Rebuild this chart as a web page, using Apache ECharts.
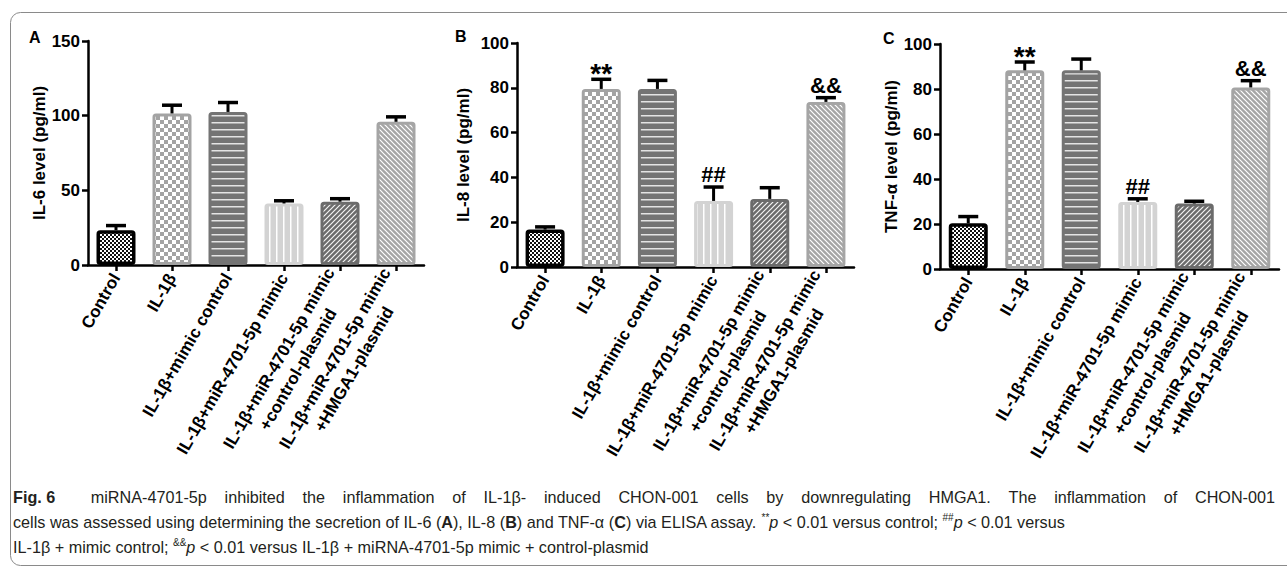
<!DOCTYPE html>
<html>
<head>
<meta charset="utf-8">
<script src="https://cdn.jsdelivr.net/npm/echarts@6/dist/echarts.min.js"></script>
<style>
html,body{margin:0;padding:0;background:#fff;}
#chart{width:1287px;height:572px;}
</style>
</head>
<body>
<div id="chart"></div>
<script>
// ---------------- data ----------------
const categories = [
  'Control',
  'IL-1β',
  'IL-1β+mimic control',
  'IL-1β+miR-4701-5p mimic',
  'IL-1β+miR-4701-5p mimic\n+control-plasmid',
  'IL-1β+miR-4701-5p mimic\n+HMGA1-plasmid'
];
const il6Values = [23.3, 101.5, 102.5, 41.2, 42.4, 95.9];
const il6Errors = [3.1, 5.5, 6.3, 1.8, 2.0, 3.3];
const il6Marks  = ['', '', '', '', '', ''];

const il8Values = [16.7, 79.5, 79.5, 29.5, 30.4, 73.7];
const il8Errors = [1.2, 4.3, 3.8, 6.2, 5.0, 1.9];
const il8Marks  = ['', '**', '', '##', '', '&&'];

const tnfValues = [20.3, 88.3, 88.3, 29.8, 29.1, 80.7];
const tnfErrors = [3.0, 3.7, 5.0, 1.4, 1.0, 3.0];
const tnfMarks  = ['', '**', '', '##', '', '&&'];

const yRangeA = [0, 150, 50];
const yRangeB = [0, 100, 20];
const yRangeC = [0, 100, 20];

const panelLetters = ['A', 'B', 'C'];
const axisNames = ['IL-6 level (pg/ml)', 'IL-8 level (pg/ml)', 'TNF-α level (pg/ml)'];

const captionLead = 'Fig. 6';
const captionLine1 = 'miRNA-4701-5p inhibited the inflammation of IL-1β- induced CHON-001 cells by downregulating HMGA1. The inflammation of CHON-001';

// ---------------- styles ----------------
const FONT = "'Liberation Sans', Arial, Helvetica, sans-serif";

function makeTile(w, h, draw) {
  const c = document.createElement('canvas');
  c.width = w; c.height = h;
  const g = c.getContext('2d');
  draw(g, w, h);
  return c.toDataURL();
}
const tiles = [
  makeTile(4, 4, (g) => { g.fillStyle = '#fff'; g.fillRect(0,0,4,4); g.fillStyle = '#111'; g.fillRect(0,0,2,2); g.fillRect(2,2,2,2); }),
  makeTile(8, 8, (g) => { g.fillStyle = '#fff'; g.fillRect(0,0,8,8); g.fillStyle = '#a3a3a3'; g.fillRect(0,0,4,4); g.fillRect(4,4,4,4); }),
  makeTile(8, 7, (g) => { g.fillStyle = '#747474'; g.fillRect(0,0,8,7); g.fillStyle = '#e4e4e4'; g.fillRect(0,3,8,1.5); }),
  makeTile(7, 8, (g) => { g.fillStyle = '#d3d3d3'; g.fillRect(0,0,7,8); g.fillStyle = '#ffffff'; g.fillRect(3,0,1.5,8); }),
  makeTile(5, 5, (g) => { g.fillStyle = '#6b6b6b'; g.fillRect(0,0,5,5); g.strokeStyle = '#f4f4f4'; g.lineWidth = 1.2;
    g.beginPath(); g.moveTo(0,5); g.lineTo(5,0); g.moveTo(-1,1); g.lineTo(1,-1); g.moveTo(4,6); g.lineTo(6,4); g.stroke(); }),
  makeTile(5, 5, (g) => { g.fillStyle = '#a5a5a5'; g.fillRect(0,0,5,5); g.strokeStyle = '#ffffff'; g.lineWidth = 1.2;
    g.beginPath(); g.moveTo(0,0); g.lineTo(5,5); g.moveTo(-1,4); g.lineTo(1,6); g.moveTo(4,-1); g.lineTo(6,1); g.stroke(); })
];
const borderColors = ['#000000', '#a3a3a3', '#747474', '#d3d3d3', '#6b6b6b', '#a5a5a5'];
const borderWidths = [3.5, 3, 3, 3, 3, 3];

const grids = [
  {left: 88,  top: 41, width: 336, height: 224},
  {left: 517, top: 43, width: 337, height: 224},
  {left: 940, top: 44, width: 339, height: 225}
];
const nameGaps = [35, 45, 40];
const letterPos = [[29, 29], [455, 28], [883, 30]];
// font size and vertical nudge for the significance marks
const markStyle = {'**': {size: 28, dy: 11}, '##': {size: 22, dy: 1.5}, '&&': {size: 22, dy: 1.5}};

// ---------------- build ----------------
function labelFormatter(v) {
  const parts = v.split('\n');
  if (parts.length === 1) return '{a|' + v + '}';
  return '{a|' + parts[0] + '}\n{b|' + parts[1] + '}';
}

function errorRenderer(marks) {
  return function (params, api) {
    const x = api.value(0), v = api.value(1), e = api.value(2);
    const p0 = api.coord([x, v]);
    const p1 = api.coord([x, v + e]);
    const half = 10;
    const children = [
      {type: 'line', shape: {x1: p0[0], y1: p0[1], x2: p1[0], y2: p1[1]}, style: {stroke: '#000', lineWidth: 3}},
      {type: 'line', shape: {x1: p1[0] - half, y1: p1[1], x2: p1[0] + half, y2: p1[1]}, style: {stroke: '#000', lineWidth: 3.5}}
    ];
    const m = marks[params.dataIndex];
    if (m) {
      const ms = markStyle[m];
      children.push({type: 'text', x: p1[0], y: p1[1] - 3 + ms.dy,
        style: {text: m, align: 'center', verticalAlign: 'bottom', fontSize: ms.size, fontWeight: 'bold', fill: '#000', fontFamily: FONT}});
    }
    return {type: 'group', children: children};
  };
}

const panels = [
  {values: il6Values, errors: il6Errors, marks: il6Marks, range: yRangeA},
  {values: il8Values, errors: il8Errors, marks: il8Marks, range: yRangeB},
  {values: tnfValues, errors: tnfErrors, marks: tnfMarks, range: yRangeC}
];

const LBL = 17;
const option = {
  animation: false,
  backgroundColor: '#fff',
  grid: grids.map(g => Object.assign({containLabel: false, outerBoundsMode: 'none'}, g)),
  xAxis: panels.map((p, i) => ({
    type: 'category', gridIndex: i, data: categories,
    axisLine: {show: true, lineStyle: {color: '#000', width: 2.5}},
    axisTick: {show: true, alignWithLabel: true, length: 6, lineStyle: {color: '#000', width: 2.5}},
    splitLine: {show: false},
    axisLabel: {
      interval: 0, rotate: 60, margin: 10, color: '#000', fontSize: LBL, fontWeight: 'bold', fontFamily: FONT,
      formatter: labelFormatter,
      rich: {
        a: {fontSize: LBL, fontWeight: 'bold', fontFamily: FONT, color: '#000', lineHeight: 22},
        b: {fontSize: LBL, fontWeight: 'bold', fontFamily: FONT, color: '#000', lineHeight: 22, align: 'center'}
      }
    }
  })),
  yAxis: panels.map((p, i) => ({
    type: 'value', gridIndex: i, min: p.range[0], max: p.range[1], interval: p.range[2],
    name: axisNames[i], nameLocation: 'middle', nameGap: nameGaps[i],
    nameTextStyle: {fontSize: 17, fontWeight: 'bold', color: '#000', fontFamily: FONT},
    axisLine: {show: true, lineStyle: {color: '#000', width: 2.5}},
    axisTick: {show: true, length: 6, lineStyle: {color: '#000', width: 2.5}},
    splitLine: {show: false},
    axisLabel: {margin: 8, color: '#000', fontSize: 17, fontWeight: 'bold', fontFamily: FONT}
  })),
  series: [],
  graphic: []
};

panels.forEach((p, i) => {
  option.series.push({
    type: 'bar', xAxisIndex: i, yAxisIndex: i, barWidth: 39,
    data: p.values.map((v, k) => ({
      value: v,
      itemStyle: {
        color: {image: tiles[k], repeat: 'repeat'},
        borderColor: borderColors[k], borderWidth: borderWidths[k], borderRadius: 2
      }
    })),
    emphasis: {disabled: true}
  });
  option.series.push({
    type: 'custom', xAxisIndex: i, yAxisIndex: i,
    renderItem: errorRenderer(p.marks),
    encode: {x: 0, y: 1},
    data: p.values.map((v, k) => [k, v, p.errors[k]]),
    z: 3
  });
  option.graphic.push({
    type: 'text', left: letterPos[i][0], top: letterPos[i][1],
    style: {text: panelLetters[i], fontSize: 16, fontWeight: 'bold', fill: '#000', fontFamily: FONT}
  });
});

// frame
option.graphic.push({
  type: 'rect', x: 0, y: 0, silent: true, z: -10,
  shape: {x: 10.5, y: 12.5, width: 1320, height: 553, r: 10},
  style: {fill: 'none', stroke: '#8a8a8a', lineWidth: 1}
});

// caption (first line justified to the full width)
const capFont = "'Liberation Sans', Arial, sans-serif";
const capSize = 16.2;
const mctx = document.createElement('canvas').getContext('2d');
mctx.font = 'bold ' + capSize + 'px ' + capFont;
const leadW = mctx.measureText(captionLead).width;
mctx.font = capSize + 'px ' + capFont;
const words = captionLine1.split(' ');
let wordsW = 0;
words.forEach(w => { wordsW += mctx.measureText(w).width; });
const gapCount = words.length - 1 + 2; // lead gap counts double
const gapW = Math.max(4, (1262 - leadW - wordsW) / gapCount);

let line1 = '{b|' + captionLead + '}{g2| }';
line1 += words.map(w => '{n|' + w + '}').join('{g| }');

const capText =
  line1 + '\n' +
  '{n|cells was assessed using determining the secretion of IL-6 (}{b|A}{n|), IL-8 (}{b|B}{n|) and TNF-α (}{b|C}{n|) via ELISA assay. }{s|**}{i|p}{n| < 0.01 versus control; }{s|##}{i|p}{n| < 0.01 versus}\n' +
  '{n|IL-1β + mimic control; }{s|&&}{i|p}{n| < 0.01 versus IL-1β + miRNA-4701-5p mimic + control-plasmid}';

option.graphic.push({
  type: 'text', x: 13, y: 484,
  style: {
    text: capText, fontSize: capSize, fontFamily: capFont, fill: '#231f20', lineHeight: 25,
    rich: {
      n: {fontSize: capSize, fontFamily: capFont, color: '#231f20', lineHeight: 25},
      g: {fontSize: capSize, fontFamily: capFont, color: '#231f20', lineHeight: 25, width: gapW},
      g2: {fontSize: capSize, fontFamily: capFont, color: '#231f20', lineHeight: 25, width: gapW * 2},
      b: {fontSize: capSize, fontFamily: capFont, color: '#231f20', fontWeight: 'bold', lineHeight: 25},
      i: {fontSize: capSize, fontFamily: capFont, color: '#231f20', fontStyle: 'italic', lineHeight: 25},
      s: {fontSize: 10, fontFamily: capFont, color: '#231f20', lineHeight: 25, verticalAlign: 'top', padding: [3, 0, 0, 0]}
    }
  }
});

const chart = echarts.init(document.getElementById('chart'), null, {renderer: 'svg', width: 1287, height: 572});
chart.setOption(option);
</script>
</body>
</html>
